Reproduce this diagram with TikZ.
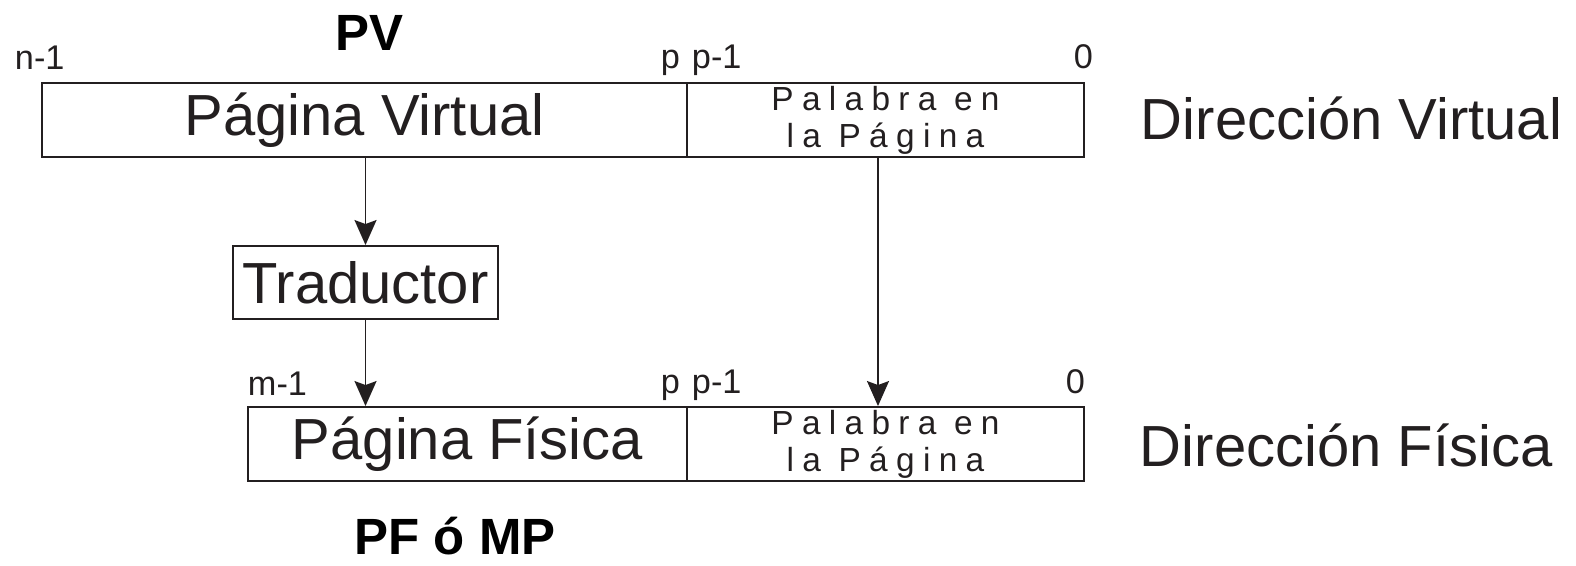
\documentclass[tikz,border=0pt]{standalone}
\usepackage{fontspec}
\setmainfont{Liberation Sans}
\newfontfamily\spacedfont[LetterSpace=25]{Liberation Sans}
\usepackage{tikz}
\usetikzlibrary{arrows.meta,positioning}
\definecolor{ink}{HTML}{231F20}
\newcommand{\fbig}{\fontsize{33}{39}\selectfont}
\newcommand{\fsmall}{\fontsize{19.5}{23}\selectfont}
\newcommand{\fword}{\spacedfont\fontsize{19}{21}\selectfont}
\newcommand{\fbold}{\fontsize{29}{34}\selectfont\bfseries}

\begin{document}
\begin{tikzpicture}[
    x=0.02cm, y=-0.02cm,
    >={Stealth[width=0.44cm,length=0.5cm,inset=0.08cm]},
    line width=1.1pt, color=ink,
    field/.style={draw, minimum height=1.48cm, inner sep=0pt, font=\fbig},
    word/.style={field, font=\fword, align=center},
    lbl/.style={inner sep=0pt, font=\fsmall},
    title/.style={inner sep=0pt, font=\fbold, text=black}
]
  \useasboundingbox (0,0) rectangle (1576,565);

  % virtual address
  \node[field, minimum width=12.9cm] (pv) at (364.5,120) {Página Virtual};
  \node[word, minimum width=7.94cm] (pvword) at (885.5,120) {Palabra en\\la Página};
  \node[title, anchor=base] (pvtitle) at (369,50) {PV};
  \node[lbl, anchor=base west] (n1) at (14,69) {n-1};
  \node[lbl, anchor=base east] (vp) at (681,68) {p};
  \node[lbl, anchor=base west] (vp1) at (691,68) {p-1};
  \node[lbl, anchor=base east] (v0) at (1094,68) {0};
  \node[anchor=base west, inner sep=0pt, font=\fbig] (vname) at (1140,139) {Dirección Virtual};

  % translator
  \node[field, minimum width=5.3cm, minimum height=1.46cm] (trad) at (365.5,282.5) {Traductor};

  % physical address
  \node[field, minimum width=8.78cm] (pf) at (467.5,444) {Página Física};
  \node[word, minimum width=7.94cm] (pfword) at (885.5,444) {Palabra en\\la Página};
  \node[lbl, anchor=base west] (m1) at (247,395) {m-1};
  \node[lbl, anchor=base east] (fp) at (681,393) {p};
  \node[lbl, anchor=base west] (fp1) at (691,393) {p-1};
  \node[lbl, anchor=base east] (f0) at (1086,393) {0};
  \node[anchor=base west, inner sep=0pt, font=\fbig] (fname) at (1139,466) {Dirección Física};
  \node[title, anchor=base] (pftitle) at (455,554) {PF ó MP};

  % arrows
  \draw[->] (trad.north |- pv.south) -- (trad.north);
  \draw[->] (trad.south) -- (trad.south |- pf.north);
  \draw[->] ([xshift=-0.15cm]pvword.south) -- ([xshift=-0.15cm]pfword.north);
\end{tikzpicture}
\end{document}
